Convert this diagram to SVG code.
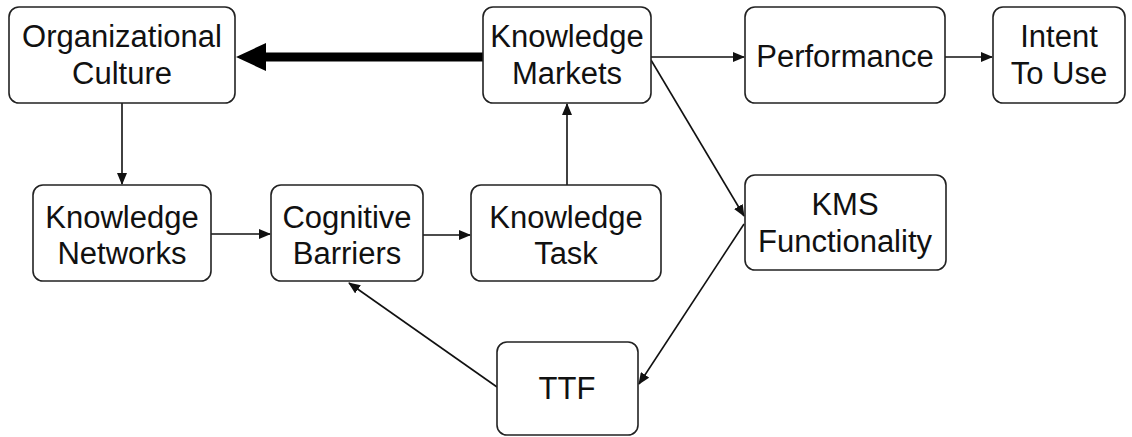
<svg xmlns="http://www.w3.org/2000/svg" width="1132" height="437" viewBox="0 0 1132 437">
<style>
.box{fill:#fff;stroke:#222;stroke-width:1.6}
.t{font-family:"Liberation Sans",Arial,sans-serif;font-size:31px;fill:#111;text-anchor:middle}
.c{stroke:#111;stroke-width:1.6;fill:none}
</style>
<defs>
<marker id="ah" markerUnits="userSpaceOnUse" markerWidth="12" markerHeight="10" refX="11" refY="5" orient="auto">
<path d="M0,0 L12,5 L0,10 Z" fill="#111"/>
</marker>
</defs>
<rect width="1132" height="437" fill="#fff"/>
<g id="connectors">
<line x1="483" y1="57" x2="262" y2="57" stroke="#000" stroke-width="9"/>
<path d="M236,57 L266,43 L266,71 Z" fill="#000"/>
<line class="c" x1="651" y1="57" x2="744" y2="57" marker-end="url(#ah)"/>
<line class="c" x1="945" y1="57" x2="992" y2="57" marker-end="url(#ah)"/>
<line class="c" x1="122" y1="103" x2="122" y2="184" marker-end="url(#ah)"/>
<line class="c" x1="211" y1="234" x2="270" y2="234" marker-end="url(#ah)"/>
<line class="c" x1="423" y1="235" x2="470" y2="235" marker-end="url(#ah)"/>
<line class="c" x1="567" y1="185" x2="567" y2="104" marker-end="url(#ah)"/>
<line class="c" x1="651" y1="60" x2="744" y2="216" marker-end="url(#ah)"/>
<line class="c" x1="744" y1="224" x2="639" y2="384" marker-end="url(#ah)"/>
<line class="c" x1="497" y1="387" x2="349" y2="283" marker-end="url(#ah)"/>
</g>
<g id="organizational-culture">
<rect class="box" x="9" y="7" width="226" height="96" rx="10"/>
<text class="t" x="122" y="47">Organizational</text>
<text class="t" x="122" y="84">Culture</text>
</g>
<g id="knowledge-markets">
<rect class="box" x="483" y="7" width="168" height="96" rx="10"/>
<text class="t" x="567" y="47">Knowledge</text>
<text class="t" x="567" y="84">Markets</text>
</g>
<g id="performance">
<rect class="box" x="745" y="7" width="200" height="96" rx="10"/>
<text class="t" x="845" y="67">Performance</text>
</g>
<g id="intent-to-use">
<rect class="box" x="993" y="7" width="132" height="96" rx="10"/>
<text class="t" x="1059" y="47">Intent</text>
<text class="t" x="1059" y="84">To Use</text>
</g>
<g id="knowledge-networks">
<rect class="box" x="33" y="185" width="178" height="96" rx="10"/>
<text class="t" x="122" y="228">Knowledge</text>
<text class="t" x="122" y="264">Networks</text>
</g>
<g id="cognitive-barriers">
<rect class="box" x="271" y="185" width="152" height="96" rx="10"/>
<text class="t" x="347" y="228">Cognitive</text>
<text class="t" x="347" y="264">Barriers</text>
</g>
<g id="knowledge-task">
<rect class="box" x="471" y="185" width="190" height="96" rx="10"/>
<text class="t" x="566" y="228">Knowledge</text>
<text class="t" x="566" y="264">Task</text>
</g>
<g id="kms-functionality">
<rect class="box" x="745" y="175" width="201" height="95" rx="10"/>
<text class="t" x="845" y="215">KMS</text>
<text class="t" x="845" y="252">Functionality</text>
</g>
<g id="ttf">
<rect class="box" x="497" y="342" width="141" height="93" rx="10"/>
<text class="t" x="567" y="399">TTF</text>
</g>
</svg>
